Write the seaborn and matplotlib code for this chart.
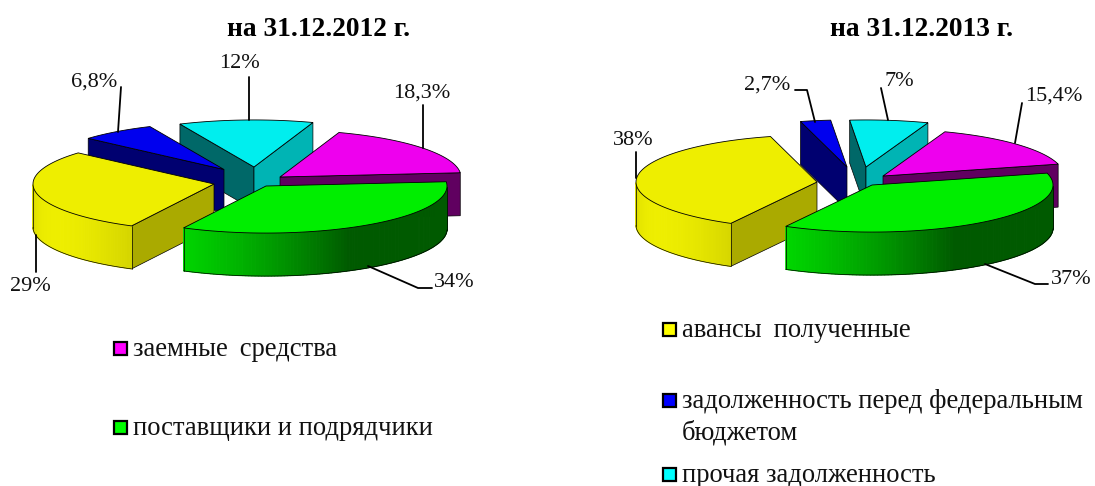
import matplotlib
matplotlib.use("Agg")
import matplotlib.pyplot as plt
from matplotlib.patches import Polygon, Rectangle
import numpy as np
import seaborn as sns

sns.set_theme(style="white")
plt.rcParams['font.family'] = ['Liberation Serif', 'DejaVu Serif']

# data
titles = ["на 31.12.2012 г.", "на 31.12.2013 г."]
values_2012 = [18.3, 34, 29, 6.8, 12]
values_2013 = [15.4, 37, 38, 2.7, 7]
labels_2012 = ["18,3%", "34%", "29%", "6,8%", "12%"]
labels_2013 = ["15,4%", "37%", "38%", "2,7%", "7%"]
legend_left = ["заемные \u2009средства", "поставщики и подрядчики"]
legend_right = ["авансы \u2009полученные", "задолженность перед федеральным\nбюджетом", "прочая задолженность"]

# styles: magenta, green, yellow, blue, cyan
top_colors = ["#ee00ee", "#00ee00", "#eeee00", "#0000ee", "#00eeee"]
legend_colors = ["#ff00ff", "#00ff00", "#ffff00", "#0000ff", "#00ffff"]
# cut faces: the one on the start side and the one on the end side of a slice
start_face = ["#600060", "#006000", "#aaaa00", "#000070", "#006868"]
end_face = ["#600060", "#006000", "#aaaa00", "#000070", "#00b4b4"]
draw_order = [4, 3, 0, 2, 1]

SQUASH = 0.26
RADIUS = 181
DEPTH = 43
FONT = 16
LEGEND_FONT = 19.2

# per slice shift of the exploded pie
shift_2012 = [(33, -2), (19, 7), (-33, 5), (-23, -9.5), (7, -12)]
shift_2013 = [(33, -2), (22, 7), (-33, 4), (-3, -11), (16, -11)]


def brightness(a):
    b = 0.35 + 0.65 * np.cos(np.radians(a + 150))
    return np.clip(b, 0.38, 1)


def draw_pie(ax, values, center, shifts, start):
    total = sum(values)
    a = start
    angles = []
    for v in values:
        angles.append((a, a - v / total * 360))
        a = angles[-1][1]

    for i in draw_order:
        a1, a2 = angles[i]
        tip = np.array([center[0] + shifts[i][0], center[1] + shifts[i][1]])
        t = np.linspace(a1, a2, 120)
        xs = tip[0] + RADIUS * np.cos(np.radians(t))
        ys = tip[1] - RADIUS * SQUASH * np.sin(np.radians(t))

        # cut faces
        if np.cos(np.radians(a1)) < 0:
            pts = [tip, (xs[0], ys[0]), (xs[0], ys[0] + DEPTH), (tip[0], tip[1] + DEPTH)]
            ax.add_patch(Polygon(pts, fc=start_face[i], ec="black", lw=0.5, zorder=2))
        if np.cos(np.radians(a2)) > 0:
            pts = [tip, (xs[-1], ys[-1]), (xs[-1], ys[-1] + DEPTH), (tip[0], tip[1] + DEPTH)]
            ax.add_patch(Polygon(pts, fc=end_face[i], ec="black", lw=0.5, zorder=2))

        # outer wall, only the front part, shaded by angle
        front = np.sin(np.radians(t)) < 0
        if front.any():
            base = np.array(matplotlib.colors.to_rgb(top_colors[i]))
            idx = np.where(front)[0]
            for j in idx[:-1]:
                pts = [(xs[j], ys[j]), (xs[j + 1], ys[j + 1]),
                       (xs[j + 1], ys[j + 1] + DEPTH), (xs[j], ys[j] + DEPTH)]
                col = base * brightness(t[j])
                ax.add_patch(Polygon(pts, fc=col, ec=col, lw=0.8, zorder=2))
            ax.plot(xs[idx], ys[idx] + DEPTH, color="black", lw=0.5, zorder=2)
            ax.plot([xs[idx[0]], xs[idx[0]]], [ys[idx[0]], ys[idx[0]] + DEPTH], color="black", lw=0.5, zorder=2)
            ax.plot([xs[idx[-1]], xs[idx[-1]]], [ys[idx[-1]], ys[idx[-1]] + DEPTH], color="black", lw=0.5, zorder=2)

        # top of the slice
        pts = [tip] + list(zip(xs, ys))
        ax.add_patch(Polygon(pts, fc=top_colors[i], ec="black", lw=0.6, zorder=2))


def legend_item(ax, x, y, color, text):
    ax.add_patch(Rectangle((x, y - 6.5), 13, 13, fc=color, ec="black", lw=1.6, zorder=3))
    ax.text(x + 19, y + 1, text, fontsize=LEGEND_FONT, va="center", ha="left", color="#111111")


fig = plt.figure(figsize=(10.95, 4.86), dpi=100)
ax = fig.add_axes([0, 0, 1, 1])
ax.set_xlim(0, 1095)
ax.set_ylim(486, 0)
ax.axis("off")

draw_pie(ax, values_2012, (247, 179), shift_2012, 71)
draw_pie(ax, values_2013, (850, 178), shift_2013, 70)

ax.text(319, 30, titles[0], fontsize=19.7, fontweight="bold", ha="center", va="center", color="black")
ax.text(922, 30, titles[1], fontsize=19.7, fontweight="bold", ha="center", va="center", color="black")

# leader lines
leaders = [
    [(423, 105), (423, 148)],
    [(368, 266), (418, 288), (432, 288)],
    [(36, 235), (36, 272)],
    [(121, 87), (118, 132)],
    [(249, 77), (249, 120)],
    [(1022, 103), (1015, 143)],
    [(985, 264), (1035, 284), (1048, 284)],
    [(636, 152), (636, 178)],
    [(795, 90), (807, 90), (815, 122)],
    [(881, 88), (888, 120)],
]
for line in leaders:
    lx, ly = zip(*line)
    ax.plot(lx, ly, color="black", lw=1.3, zorder=4)

label_pos_2012 = [(422, 93), (454, 282), (30, 286), (94, 82), (239, 64)]
label_pos_2013 = [(1054, 96), (1071, 279), (633, 140), (767, 85), (899, 81)]
for text, pos in zip(labels_2012 + labels_2013, label_pos_2012 + label_pos_2013):
    ax.text(pos[0], pos[1], text, fontsize=FONT, ha="center", va="center", color="#111111")

legend_item(ax, 114, 348, legend_colors[0], legend_left[0])
legend_item(ax, 114, 427, legend_colors[1], legend_left[1])
legend_item(ax, 663, 329, legend_colors[2], legend_right[0])
legend_item(ax, 663, 400, legend_colors[3], legend_right[1].split("\n")[0])
ax.text(682, 433, legend_right[1].split("\n")[1], fontsize=LEGEND_FONT, va="center", ha="left", color="#111111")
legend_item(ax, 663, 474, legend_colors[4], legend_right[2])

fig.savefig("out.png", dpi=100)
